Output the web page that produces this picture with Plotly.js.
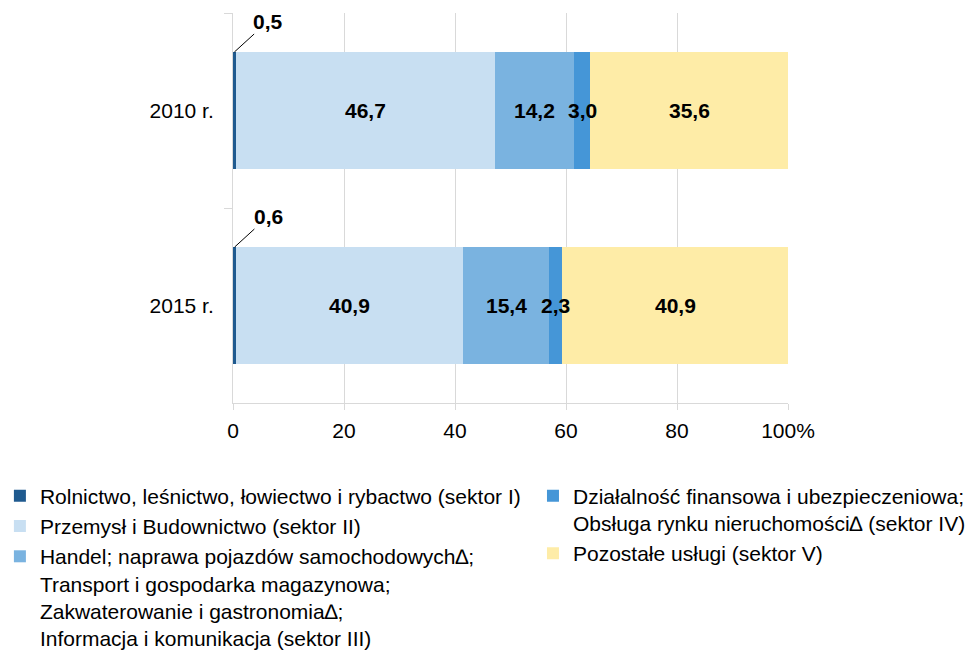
<!DOCTYPE html>
<html>
<head>
<meta charset="utf-8">
<script src="https://cdn.plot.ly/plotly-3.0.1.min.js"></script>
<style>html,body{margin:0;padding:0;background:#fff;}#chart{width:972px;height:657px;}</style>
</head>
<body>
<div id="chart"></div>
<script>
const years = ['2010 r.', '2015 r.'];
const sectorNames = [
  'Rolnictwo, leśnictwo, łowiectwo i rybactwo (sektor I)',
  'Przemysł i Budownictwo (sektor II)',
  'Handel; naprawa pojazdów samochodowych\u2206;<br>Transport i gospodarka magazynowa;<br>Zakwaterowanie i gastronomia\u2206;<br>Informacja i komunikacja (sektor III)',
  'Działalność finansowa i ubezpieczeniowa;<br>Obsługa rynku nieruchomości\u2206 (sektor IV)',
  'Pozostałe usługi (sektor V)'
];
const sektorI = [0.5, 0.6];
const sektorII = [46.7, 40.9];
const sektorIII = [14.2, 15.4];
const sektorIV = [3.0, 2.3];
const sektorV = [35.6, 40.9];
const xTickVals = [0, 20, 40, 60, 80, 100];
const xTickText = ['0', '20', '40', '60', '80', '100%'];

const colors = ['#1f5a8f', '#c8dff2', '#7ab3e0', '#4596d7', '#feeca7'];
const series = [sektorI, sektorII, sektorIII, sektorIV, sektorV];
const legendOf = ['legend', 'legend', 'legend', 'legend2', 'legend2'];
const FONT = 'Liberation Sans, Arial, sans-serif';
const fmt = v => v.toFixed(1).replace('.', ',');

const traces = series.map((vals, i) => ({
  type: 'bar',
  orientation: 'h',
  x: vals,
  y: years,
  name: sectorNames[i],
  legend: legendOf[i],
  marker: {color: colors[i], line: {width: 0}},
  hoverinfo: 'x+name'
}));

const bargap = 0.4;
const annotations = [];
// small sector I labels with leader lines
years.forEach((y, idx) => {
  annotations.push({
    x: sektorI[idx] / 2,
    y: idx - (1 - bargap) / 2,
    xref: 'x', yref: 'y',
    text: '<b>' + fmt(sektorI[idx]) + '</b>',
    showarrow: true, arrowhead: 0, arrowwidth: 1, arrowcolor: '#000',
    ax: 34, ay: -31, standoff: 0,
    font: {family: FONT, size: 21, color: '#000'}
  });
});
// inside labels for sectors II-V, centred in each segment
years.forEach((y, idx) => {
  let start = sektorI[idx];
  for (let s = 1; s < series.length; s++) {
    const v = series[s][idx];
    annotations.push({
      x: start + v / 2, y: y,
      xref: 'x', yref: 'y',
      text: '<b>' + fmt(v) + '</b>',
      showarrow: false,
      font: {family: FONT, size: 21, color: '#000'}
    });
    start += v;
  }
});

const layout = {
  width: 972, height: 657,
  margin: {l: 233, r: 184, t: 13, b: 254, autoexpand: false},
  barmode: 'stack',
  bargap: bargap,
  separators: ', ',
  paper_bgcolor: '#fff', plot_bgcolor: '#fff',
  font: {family: FONT, size: 21, color: '#000'},
  showlegend: true,
  xaxis: {
    range: [0, 100],
    tickvals: xTickVals, ticktext: xTickText,
    showgrid: true, gridcolor: '#d9d9d9', gridwidth: 1,
    showline: true, linecolor: '#d9d9d9', linewidth: 1,
    ticks: 'outside', ticklen: 6, tickcolor: '#d9d9d9',
    zeroline: false,
    ticklabelstandoff: 3,
    tickfont: {family: FONT, size: 21, color: '#000'}
  },
  yaxis: {
    type: 'category',
    categoryorder: 'array', categoryarray: years,
    range: [1.5, -0.5],
    showgrid: false,
    showline: true, linecolor: '#d9d9d9', linewidth: 1,
    ticks: 'outside', ticklen: 8, tickcolor: '#d9d9d9',
    tickson: 'boundaries',
    ticklabelstandoff: 14,
    zeroline: false,
    tickfont: {family: FONT, size: 21, color: '#000'}
  },
  legend: {
    x: -0.42, xanchor: 'left', y: -0.186, yanchor: 'top',
    orientation: 'v', traceorder: 'normal', valign: 'top',
    bgcolor: 'rgba(0,0,0,0)',
    font: {family: FONT, size: 21, color: '#000'}
  },
  legend2: {
    x: 0.5405, xanchor: 'left', y: -0.186, yanchor: 'top',
    orientation: 'v', traceorder: 'normal', valign: 'top',
    bgcolor: 'rgba(0,0,0,0)',
    font: {family: FONT, size: 21, color: '#000'}
  },
  annotations: annotations
};

Plotly.newPlot('chart', traces, layout, {displayModeBar: false, staticPlot: true});
</script>
</body>
</html>
